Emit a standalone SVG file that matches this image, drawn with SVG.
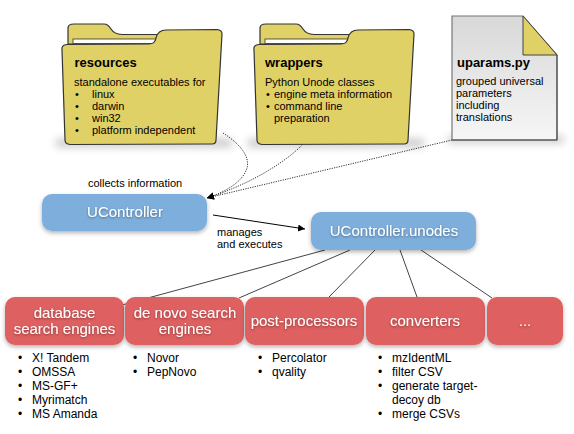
<svg xmlns="http://www.w3.org/2000/svg" width="574" height="434" viewBox="0 0 574 434">
<defs>
<linearGradient id="docfill" x1="0" y1="0" x2="0" y2="1"><stop offset="0" stop-color="#d8d8d8"/><stop offset="1" stop-color="#f6f6f6"/></linearGradient>
<filter id="ground" x="-20%" y="-150%" width="140%" height="400%"><feGaussianBlur stdDeviation="4.500"/></filter>
<filter id="box" x="-10%" y="-20%" width="120%" height="150%"><feDropShadow dx="0" dy="2" stdDeviation="2" flood-color="#000" flood-opacity="0.3"/></filter>
<filter id="ts" x="-10%" y="-30%" width="120%" height="170%"><feDropShadow dx="0" dy="1" stdDeviation="0.8" flood-color="#000" flood-opacity="0.4"/></filter>
<marker id="arr" markerUnits="userSpaceOnUse" markerWidth="10" markerHeight="10" refX="7" refY="3.5" orient="auto"><path d="M0 0L7 3.5L0 7Z" fill="#000"/></marker>
<g id="folderShape">
<path fill="#e0d166" stroke="#333" stroke-width="1.2" d="M11 40L11 28Q11 24 17 24L47 24Q51 24 54 29Q57 34 65 34.500L100 34.500L100 44L11 44Z"/>
<rect x="16" y="39" width="85" height="4.500" fill="#fff" stroke="#333" stroke-width="0.800"/>
<path class="folder" d="M5 50Q4 45 10 44.500L92 44Q98 44 99 38Q101 30 109 30L160 29.500Q165 30 165 34L159 140Q159 144 155 144L13 144.500Q8 144 8 140Z"/>
</g>
</defs>
<style>
text{font-family:"Liberation Sans",Arial,sans-serif;fill:#000;font-size:11px}
.h{font-weight:bold;font-size:13px}
.l{font-size:12px}
.w{fill:#fff;font-size:15px;text-anchor:middle;filter:url(#ts)}
.folder{fill:#e0d166;stroke:#333;stroke-width:1.2}
.blue{fill:#7eaedb;filter:url(#box)}
.red{fill:#de6060;filter:url(#box)}
.g{fill:#000;opacity:.22;filter:url(#ground)}
.c{fill:none;stroke:#444;stroke-width:1}
.dot{fill:none;stroke:#333;stroke-width:1;stroke-dasharray:1.2 1.2}
</style>
<g id="connectors">
<path class="c" d="M325 250L122 305M350 250L239 298M375 250L329 297M400 250L417 297M421 250L492 298"/>
<path class="dot" d="M223 133C240 144 250 156 247 168C243 182 225 192 207 198" marker-end="url(#arr)"/>
<path class="dot" d="M303 144C288 160 262 175 245 183C232 189 220 194 207 198" marker-end="url(#arr)"/>
<path class="dot" d="M452 140L207 198" marker-end="url(#arr)"/>
<path fill="none" stroke="#000" stroke-width="1" d="M213 215L305 229" marker-end="url(#arr)"/>
</g>
<g id="resources">
<rect class="g" x="56" y="139" width="176" height="8"/>
<use href="#folderShape" x="57"/>
<text class="h" x="74.500" y="67">resources</text>
<text x="74" y="86">standalone executables for</text>
<text x="75" y="98">•</text><text x="92" y="98">linux</text>
<text x="75" y="110">•</text><text x="92" y="110">darwin</text>
<text x="75" y="122">•</text><text x="92" y="122">win32</text>
<text x="75" y="134">•</text><text x="92" y="134">platform independent</text>
</g>
<g id="wrappers">
<rect class="g" x="248" y="139" width="176" height="8"/>
<use href="#folderShape" x="249"/>
<text class="h" x="265" y="67">wrappers</text>
<text x="265" y="86">Python Unode classes</text>
<text x="266" y="98">•</text><text x="274" y="98">engine meta information</text>
<text x="266" y="110">•</text><text x="274" y="110">command line</text>
<text x="274" y="122">preparation</text>
</g>
<g id="uparams">
<rect class="g" x="448" y="136" width="116" height="7"/>
<path fill="url(#docfill)" stroke="#777" stroke-width="1.2" d="M452 16L523 16L557 55L557 140L452 140Z"/>
<path d="M452 140L557 140L557 55" fill="none" stroke="#444" stroke-width="1"/>
<path fill="#e0d166" stroke="#444" stroke-width="1" d="M523 16L557 55L523 55Z"/>
<text class="h" x="457" y="67">uparams.py</text>
<text x="456" y="85">grouped universal</text>
<text x="456" y="97">parameters</text>
<text x="456" y="109">including</text>
<text x="456" y="121">translations</text>
</g>
<g id="ucontroller">
<rect class="blue" x="42" y="194" width="165" height="37" rx="10"/>
<text class="w" x="125" y="217">UController</text>
</g>
<g id="unodes">
<rect class="blue" x="311" y="212" width="165" height="38" rx="10"/>
<text class="w" x="394" y="236">UController.unodes</text>
</g>
<g id="labels">
<text x="88" y="187">collects information</text>
<text x="217" y="236">manages</text>
<text x="217" y="248">and executes</text>
</g>
<g id="db">
<rect class="red" x="5" y="297" width="119" height="48" rx="10"/>
<text class="w" x="64.500" y="318">database</text>
<text class="w" x="64.500" y="334">search engines</text>
<text class="l" x="18" y="362">•</text><text class="l" x="32" y="362">X! Tandem</text>
<text class="l" x="18" y="376">•</text><text class="l" x="32" y="376">OMSSA</text>
<text class="l" x="18" y="390">•</text><text class="l" x="32" y="390">MS-GF+</text>
<text class="l" x="18" y="404">•</text><text class="l" x="32" y="404">Myrimatch</text>
<text class="l" x="18" y="418">•</text><text class="l" x="32" y="418">MS Amanda</text>
</g>
<g id="denovo">
<rect class="red" x="125" y="297" width="119" height="48" rx="10"/>
<text class="w" x="185" y="318">de novo search</text>
<text class="w" x="185" y="334">engines</text>
<text class="l" x="133" y="362">•</text><text class="l" x="147" y="362">Novor</text>
<text class="l" x="133" y="376">•</text><text class="l" x="147" y="376">PepNovo</text>
</g>
<g id="post">
<rect class="red" x="245" y="297" width="119" height="48" rx="10"/>
<text class="w" x="304" y="326">post-processors</text>
<text class="l" x="258" y="362">•</text><text class="l" x="272" y="362">Percolator</text>
<text class="l" x="258" y="376">•</text><text class="l" x="272" y="376">qvality</text>
</g>
<g id="converters">
<rect class="red" x="366" y="297" width="119" height="48" rx="10"/>
<text class="w" x="425" y="326">converters</text>
<text class="l" x="378" y="362">•</text><text class="l" x="392" y="362">mzIdentML</text>
<text class="l" x="378" y="376">•</text><text class="l" x="392" y="376">filter CSV</text>
<text class="l" x="378" y="390">•</text><text class="l" x="392" y="390">generate target-</text>
<text class="l" x="392" y="404">decoy db</text>
<text class="l" x="378" y="418">•</text><text class="l" x="392" y="418">merge CSVs</text>
</g>
<g id="more">
<rect class="red" x="487" y="297" width="76" height="48" rx="10"/>
<text class="w" x="525" y="326">...</text>
</g>
</svg>
